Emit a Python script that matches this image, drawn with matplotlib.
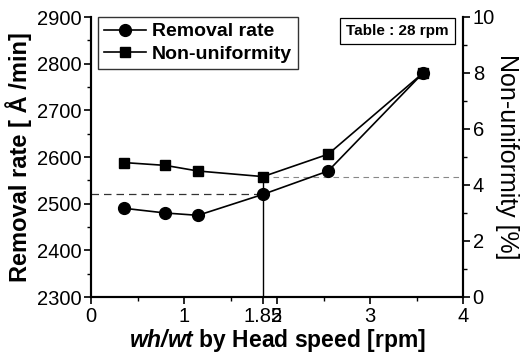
import matplotlib
matplotlib.use("Agg")
import matplotlib.pyplot as plt
from matplotlib.ticker import MultipleLocator, FixedLocator

plt.rcParams['font.family'] = ['Liberation Sans', 'DejaVu Sans']
plt.rcParams['mathtext.fontset'] = 'custom'
plt.rcParams['mathtext.bfit'] = 'Liberation Sans:italic:bold'
plt.rcParams['mathtext.it'] = 'Liberation Sans:italic'
plt.rcParams['mathtext.rm'] = 'Liberation Sans'
plt.rcParams['mathtext.bf'] = 'Liberation Sans:bold'

head_ratio = [0.36, 0.80, 1.15, 1.85, 2.55, 3.57]
removal_rate = [2490, 2480, 2475, 2520, 2570, 2780]
non_uniformity = [4.8, 4.7, 4.5, 4.3, 5.1, 8.0]
x_ticks = [0, 1, 1.85, 2, 3, 4]
x_tick_labels = ['0', '1', '1.85', '2', '3', '4']

fig = plt.figure(figsize=(5.25, 3.56), dpi=100)
ax = fig.add_axes([91/525, 1-297/356, (463-91)/525, (297-17)/356])
ax2 = ax.twinx()

ax.set_xlim(0, 4)
ax.set_ylim(2300, 2900)
ax2.set_ylim(0, 10)

# reference lines
ax.plot([0, 1.85], [2520, 2520], color='#333333', lw=0.9, ls=(0, (6, 4)))
ax2.plot([1.85, 4], [4.3, 4.3], color='#888888', lw=0.8, ls=(0, (5, 4)))
ax.plot([1.85, 1.85], [2300, 2560], color='black', lw=1.0)

l1, = ax.plot(head_ratio, removal_rate, color='black', lw=1.2, marker='o', ms=8.5,
              label='Removal rate')
l2, = ax2.plot(head_ratio, non_uniformity, color='black', lw=1.2, marker='s', ms=7,
               label='Non-uniformity')

ax.xaxis.set_major_locator(FixedLocator(x_ticks))
ax.set_xticklabels(x_tick_labels)
ax.xaxis.set_minor_locator(FixedLocator([0.5, 1.5, 2.5, 3.5]))
ax.yaxis.set_major_locator(MultipleLocator(100))
ax.yaxis.set_minor_locator(MultipleLocator(50))
ax2.yaxis.set_major_locator(MultipleLocator(2))
ax2.yaxis.set_minor_locator(MultipleLocator(1))

for a in (ax, ax2):
    a.tick_params(which='major', length=5, width=1.2, labelsize=14.5, direction='out', pad=2)
    a.tick_params(which='minor', length=3, width=1.0, direction='out')
    for s in a.spines.values():
        s.set_linewidth(1.5)
ax.spines['top'].set_visible(False)
ax2.spines['top'].set_visible(False)

ax.set_xlabel(r'$\mathbfit{wh/wt}$ by Head speed [rpm]', fontsize=16.5, fontweight='bold', labelpad=1)
ax.set_ylabel('Removal rate [ Å /min]', fontsize=17, fontweight='bold', labelpad=3)
ax2.set_ylabel('Non-uniformity [%]', fontsize=18, rotation=270, labelpad=17)

leg = ax.legend(handles=[l1, l2], loc='upper left', bbox_to_anchor=(0.018, 1.0),
                prop={'weight': 'bold', 'size': 14}, fancybox=False, edgecolor='black',
                handlelength=2.2, borderpad=0.3, labelspacing=0.25, handletextpad=0.3,
                borderaxespad=0.0)
leg.get_frame().set_linewidth(1.0)

ax.text(0.962, 0.975, 'Table : 28 rpm', transform=ax.transAxes, ha='right', va='top',
        fontsize=11, fontweight='bold',
        bbox=dict(boxstyle='square,pad=0.4', fc='white', ec='black', lw=0.9))

ax.set_zorder(ax2.get_zorder() + 1)
ax.patch.set_visible(False)

fig.savefig('out.png', dpi=100)
